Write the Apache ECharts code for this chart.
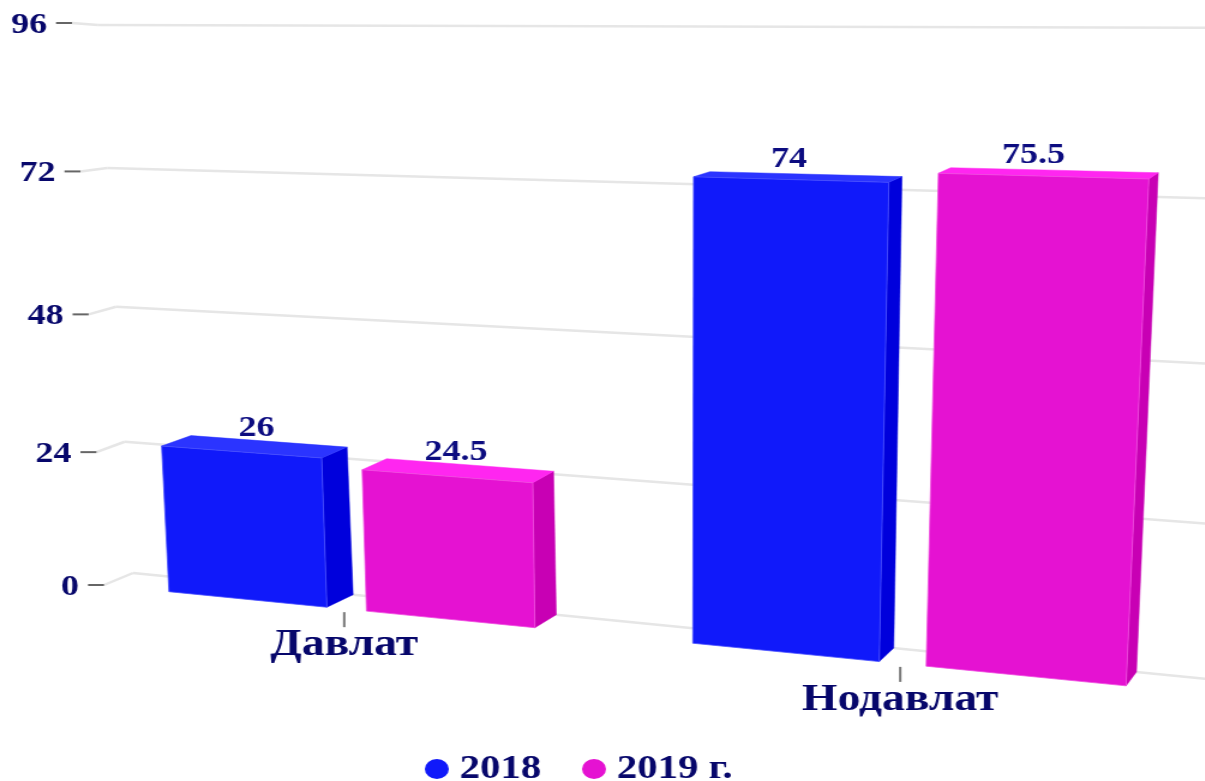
<!DOCTYPE html>
<html><head><meta charset="utf-8">
<style>
html,body{margin:0;padding:0;background:#fff;overflow:hidden}
/* The reference is stretched 1.2x horizontally, text and legend dots included */
#chart{width:1004.17px;height:781px;transform:scaleX(1.2);transform-origin:0 0}
</style>
<script src="https://cdn.jsdelivr.net/npm/echarts@6/dist/echarts.min.js"></script>
</head><body><div id="chart"></div>
<script>
var categories = ['Давлат', 'Нодавлат'];
var values2018 = [26, 74];
var values2019 = [24.5, 75.5];
var yTicks = [0, 24, 48, 72, 96];
var seriesNames = ['2018', '2019 г.'];

var STRETCH = 1.2, INK = '#07076b', VALUE_INK = '#0c0c80', FONT = '"Liberation Serif"';
var BLUE = {front:'#1019fa', side:'#0000dc', top:'#2b34ff', edge:'#4a52ff'};
var PINK = {front:'#e512d2', side:'#c800b4', top:'#ff26f0', edge:'#f04ce0'};
var BAR_W = 0.319, BAR_GAP = 0.0775, AXIS_X = 3 / STRETCH, V_WARP = 0.02;

function homography(p, k) {
  var dx1=p[1][0]-p[2][0], dx2=p[3][0]-p[2][0], sx=p[0][0]-p[1][0]+p[2][0]-p[3][0];
  var dy1=p[1][1]-p[2][1], dy2=p[3][1]-p[2][1], sy=p[0][1]-p[1][1]+p[2][1]-p[3][1];
  var den=dx1*dy2-dx2*dy1, g=(sx*dy2-dx2*sy)/den, h=(dx1*sy-sx*dy1)/den;
  var a=p[1][0]-p[0][0]+g*p[1][0], b=p[3][0]-p[0][0]+h*p[3][0], c=p[0][0];
  var d=p[1][1]-p[0][1]+g*p[1][1], e=p[3][1]-p[0][1]+h*p[3][1], f=p[0][1];
  return function(u,t){var v=t/(1+k*(1-t)), w=g*u+h*v+1; return [(a*u+b*v+c)/w/STRETCH,(d*u+e*v+f)/w];};
}
// plane corners, in reference pixels: bottom-left, bottom-right, top-right, top-left
var front = homography([[101,585],[1219,695],[1255,30],[69,23]], V_WARP);
var wall  = homography([[133,573],[1228,681],[1263,28],[98,25]], 0);

function norm(params, pt) {
  var r = params.coordSys;
  return [(pt[0]-r.x)/r.width, (r.y+r.height-pt[1])/r.height];
}
function txt(x,y,s,size,align,color){
  return {type:'text',silent:true,style:{x:x,y:y,text:s,fill:color||INK,font:'bold '+size+'px '+FONT,align:align,verticalAlign:'middle'}};
}
function poly(pts,fill,stroke){
  return {type:'polygon',silent:true,shape:{points:pts},style:{fill:fill,stroke:stroke||fill,lineWidth:stroke?0.8:0.5}};
}
function line(a,b,color,w){
  return {type:'line',silent:true,shape:{x1:a[0],y1:a[1],x2:b[0],y2:b[1]},style:{stroke:color,lineWidth:w,fill:null}};
}

function barRenderer(side, colors){
  return function(params, api){
    var cat=api.value(0), val=api.value(1);
    var c=norm(params, api.coord([cat,val])), base=norm(params, api.coord([cat,0]));
    var band=api.size([1,0])[0]/params.coordSys.width;
    var inner=BAR_GAP/2*band, w=BAR_W*band;
    var u0=side<0?c[0]-inner-w:c[0]+inner, u1=u0+w, v=c[1], b=base[1];
    var fTL=front(u0,v),fTR=front(u1,v),fBR=front(u1,b),fBL=front(u0,b);
    var wTL=wall(u0,v),wTR=wall(u1,v),wBR=wall(u1,b);
    var midX=(fTL[0]+fTR[0])/2*STRETCH;
    var lx=midX+15-0.0311*(midX-242);
    var ly=(fTL[1]+fTR[1]+wTL[1]+wTR[1])/4-18;
    return {type:'group',children:[
      poly([fTR,fBR,wBR,wTR],colors.side),
      poly([fTL,fTR,wTR,wTL],colors.top),
      poly([fTL,fTR,fBR,fBL],colors.front,colors.edge),
      txt(lx/STRETCH,ly,String(val),30,'center',VALUE_INK)
    ]};
  };
}

var option = {
  animation:false,
  backgroundColor:'#fff',
  grid:{left:0,right:0,top:0,bottom:0},
  xAxis:{type:'category',data:categories,show:false},
  yAxis:{type:'value',min:0,max:96,interval:24,show:false},
  legend:{
    data:seriesNames,icon:'circle',left:349,top:747,itemWidth:20,itemHeight:20,itemGap:34,
    textStyle:{color:INK,fontFamily:FONT,fontWeight:'bold',fontSize:34,padding:[0,0,0,4]}
  },
  series:[
    {type:'custom',name:'grid',z:1,silent:true,clip:false,
     data:yTicks.map(function(t){return [0,t];}),encode:{x:0,y:1},
     renderItem:function(params,api){
       var val=api.value(1), v=norm(params,api.coord([0,val]))[1];
       var f=front(0,v), a=[f[0]+AXIS_X,f[1]], b=wall(0,v), e=wall(1,v);
       return {type:'group',children:[
         line(a,b,'#e6e6e6',2.5), line(b,e,'#e6e6e6',2.5),
         line([a[0]-16/STRETCH,a[1]],a,'#666',2),
         txt(a[0]-25/STRETCH,a[1]+2,String(val),30,'right')
       ]};
     }},
    {type:'custom',name:'axis',z:1,silent:true,clip:false,
     data:categories.map(function(c,i){return [i,0];}),encode:{x:0,y:1},
     renderItem:function(params,api){
       var i=api.value(0), n=norm(params,api.coord([i,0])), p=front(n[0],n[1]);
       return {type:'group',children:[
         line([p[0]-2,p[1]+3],[p[0]-2,p[1]+18],'#777',2),
         txt(p[0]-2,p[1]+36,categories[i],38,'center')
       ]};
     }},
    {type:'custom',name:seriesNames[0],z:3,clip:false,itemStyle:{color:BLUE.front},
     data:values2018.map(function(v,i){return [i,v];}),encode:{x:0,y:1},renderItem:barRenderer(-1,BLUE)},
    {type:'custom',name:seriesNames[1],z:3,clip:false,itemStyle:{color:PINK.front},
     data:values2019.map(function(v,i){return [i,v];}),encode:{x:0,y:1},renderItem:barRenderer(1,PINK)}
  ]
};
var chart=echarts.init(document.getElementById('chart'));
chart.setOption(option);
</script></body></html>
